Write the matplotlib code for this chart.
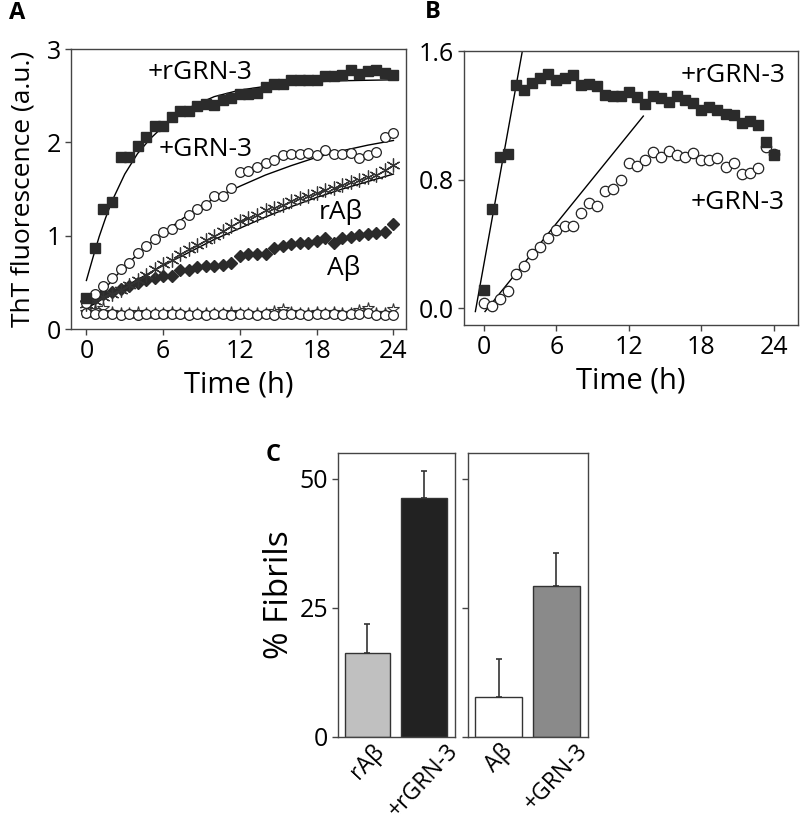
import matplotlib
matplotlib.use("Agg")
import matplotlib.pyplot as plt
import numpy as np

plt.rcParams['font.family'] = ['Open Sans', 'DejaVu Sans']

# ---------------- Panel A data ----------------
time_a = [i * 2 / 3 for i in range(37)]
a_rgrn3 = [0.33, 0.87, 1.29, 1.36, 1.84, 1.84, 1.96, 2.06, 2.18, 2.18, 2.27, 2.34, 2.34,
           2.39, 2.41, 2.40, 2.45, 2.48, 2.52, 2.52, 2.53, 2.59, 2.62, 2.62, 2.67, 2.67,
           2.67, 2.67, 2.71, 2.71, 2.72, 2.77, 2.73, 2.76, 2.78, 2.74, 2.72]
a_grn3 = [0.28, 0.37, 0.46, 0.55, 0.64, 0.71, 0.81, 0.89, 0.96, 1.04, 1.07, 1.13, 1.22,
          1.29, 1.33, 1.42, 1.43, 1.51, 1.68, 1.69, 1.74, 1.78, 1.81, 1.86, 1.87, 1.87,
          1.89, 1.86, 1.92, 1.87, 1.87, 1.89, 1.83, 1.86, 1.90, 2.06, 2.10]
a_rab = [0.27, 0.30, 0.34, 0.38, 0.42, 0.47, 0.53, 0.58, 0.64, 0.70, 0.74, 0.80, 0.86,
         0.90, 0.95, 1.00, 1.05, 1.10, 1.16, 1.19, 1.22, 1.27, 1.30, 1.33, 1.37, 1.40,
         1.43, 1.46, 1.49, 1.51, 1.54, 1.57, 1.60, 1.63, 1.65, 1.70, 1.76]
a_ab = [0.30, 0.33, 0.37, 0.40, 0.43, 0.46, 0.49, 0.52, 0.55, 0.57, 0.57, 0.63, 0.63,
        0.66, 0.67, 0.68, 0.69, 0.71, 0.78, 0.80, 0.80, 0.80, 0.87, 0.89, 0.91, 0.92,
        0.92, 0.94, 0.98, 0.92, 0.98, 0.99, 1.01, 1.02, 1.03, 1.04, 1.13]
a_ctrl_circ = [0.17, 0.16, 0.16, 0.16, 0.15, 0.16, 0.15, 0.16, 0.16, 0.16, 0.16, 0.16, 0.15,
               0.16, 0.15, 0.16, 0.16, 0.15, 0.16, 0.16, 0.15, 0.16, 0.15, 0.16, 0.16, 0.16,
               0.15, 0.16, 0.16, 0.16, 0.15, 0.16, 0.16, 0.17, 0.15, 0.15, 0.15]
a_ctrl_star = [0.18, 0.20, 0.22, 0.18, 0.17, 0.17, 0.18, 0.17, 0.17, 0.17, 0.18, 0.17, 0.17,
               0.17, 0.17, 0.17, 0.17, 0.18, 0.17, 0.17, 0.17, 0.17, 0.19, 0.21, 0.18, 0.17,
               0.17, 0.18, 0.17, 0.18, 0.17, 0.17, 0.20, 0.22, 0.17, 0.17, 0.21]

# fitted curves
fit_rgrn3_t = [0, 0.5, 1, 1.5, 2, 3, 4, 5, 6, 7, 8, 10, 12, 14, 16, 18, 20, 22, 24]
fit_rgrn3_v = [0.52, 0.76, 0.99, 1.19, 1.37, 1.66, 1.88, 2.04, 2.17, 2.27, 2.37, 2.49,
               2.56, 2.60, 2.63, 2.65, 2.66, 2.665, 2.67]
fit_grn3_t = [0, 1, 2, 3, 4, 5, 6, 8, 10, 12, 14, 16, 18, 20, 22, 24]
fit_grn3_v = [0.20, 0.36, 0.52, 0.67, 0.80, 0.92, 1.03, 1.23, 1.40, 1.53, 1.65, 1.75,
              1.84, 1.91, 1.97, 2.02]
fit_rab_t = [0, 2, 4, 6, 8, 10, 12, 14, 16, 18, 20, 22, 24]
fit_rab_v = [0.22, 0.38, 0.53, 0.68, 0.82, 0.96, 1.08, 1.20, 1.31, 1.41, 1.50, 1.58, 1.66]

# ---------------- Panel B data ----------------
time_b = [i * 2 / 3 for i in range(37)]
b_rgrn3 = [0.114, 0.616, 0.939, 0.96, 1.389, 1.357, 1.40, 1.43, 1.457, 1.42, 1.434, 1.45,
           1.389, 1.393, 1.382, 1.33, 1.322, 1.322, 1.347, 1.312, 1.27, 1.322, 1.306, 1.285,
           1.322, 1.295, 1.275, 1.233, 1.25, 1.233, 1.208, 1.202, 1.154, 1.167, 1.14, 1.036,
           0.957]
b_grn3 = [0.031, 0.017, 0.058, 0.108, 0.213, 0.265, 0.338, 0.383, 0.44, 0.487, 0.512, 0.512,
          0.59, 0.653, 0.638, 0.732, 0.742, 0.798, 0.902, 0.885, 0.922, 0.97, 0.943, 0.978,
          0.957, 0.943, 0.968, 0.922, 0.922, 0.933, 0.881, 0.902, 0.835, 0.839, 0.87, 1.005,
          0.96]
line_rgrn3_t = [-0.72, 3.17]
line_rgrn3_v = [-0.02, 1.60]
line_grn3_t = [0.08, 13.19]
line_grn3_v = [-0.02, 1.196]

# ---------------- Panel C data ----------------
c_left_labels = ['rAβ', '+rGRN-3']
c_left_values = [16.3, 46.2]
c_left_errors = [5.6, 5.3]
c_right_labels = ['Aβ', '+GRN-3']
c_right_values = [7.7, 29.3]
c_right_errors = [7.4, 6.3]

fig = plt.figure(figsize=(8, 8.25), dpi=100)

spine_col = '#444444'
tick_fs = 18
label_fs = 19

def style_axes(ax):
    for s in ax.spines.values():
        s.set_color(spine_col)
        s.set_linewidth(1.0)
    ax.tick_params(direction='out', length=4, width=1, color=spine_col,
                   labelsize=tick_fs, pad=3)

# ---- Panel A ----
axA = fig.add_axes([0.0888, 0.6012, 0.419, 0.3394])
style_axes(axA)
dark = '#2b2b2b'
axA.plot(fit_rgrn3_t, fit_rgrn3_v, color='black', lw=1.0, zorder=2)
axA.plot(fit_grn3_t, fit_grn3_v, color='black', lw=1.0, zorder=2)
axA.plot(fit_rab_t, fit_rab_v, color='black', lw=1.0, zorder=2)
axA.plot(time_a, a_ctrl_star, ls='none', marker='*', ms=9, mfc='white', mec='#333333',
         mew=0.8, zorder=3)
axA.plot(time_a, a_ctrl_circ, ls='none', marker='o', ms=7, mfc='white', mec='#222222',
         mew=0.9, zorder=3)
axA.plot(time_a, a_ab, ls='none', marker='D', ms=6.5, color=dark, zorder=4)
axA.plot(time_a, a_rab, ls='none', marker=(6, 2, 0), ms=10, mec='#333333', mew=0.9, zorder=4)
axA.plot(time_a, a_grn3, ls='none', marker='o', ms=7, mfc='white', mec='#222222',
         mew=0.9, zorder=4)
axA.plot(time_a, a_rgrn3, ls='none', marker='s', ms=6.5, color=dark, zorder=4)
axA.set_xlim(-1.2, 25)
axA.set_ylim(0, 3)
axA.set_xticks([0, 6, 12, 18, 24])
axA.set_yticks([0, 1, 2, 3])
axA.set_xlabel('Time (h)', fontsize=21, labelpad=5)
axA.set_ylabel('ThT fluorescence (a.u.)', fontsize=label_fs, labelpad=8)
axA.text(8.9, 2.75, '+rGRN-3', fontsize=label_fs, ha='center', va='center')
axA.text(9.3, 1.92, '+GRN-3', fontsize=label_fs, ha='center', va='center')
axA.text(19.85, 1.25, 'rAβ', fontsize=label_fs, ha='center', va='center')
axA.text(20.1, 0.65, 'Aβ', fontsize=label_fs, ha='center', va='center')

# ---- Panel B ----
axB = fig.add_axes([0.58, 0.606, 0.4175, 0.332])
style_axes(axB)
axB.plot(line_rgrn3_t, line_rgrn3_v, color='black', lw=1.0, zorder=2)
axB.plot(line_grn3_t, line_grn3_v, color='black', lw=1.0, zorder=2)
axB.plot(time_b, b_grn3, ls='none', marker='o', ms=7.5, mfc='white', mec='#222222',
         mew=0.9, zorder=3)
axB.plot(time_b, b_rgrn3, ls='none', marker='s', ms=7.5, color=dark, zorder=4)
axB.set_xlim(-1.66, 26)
axB.set_ylim(-0.104, 1.6)
axB.set_xticks([0, 6, 12, 18, 24])
axB.set_yticks([0.0, 0.8, 1.6])
axB.set_yticklabels(['0.0', '0.8', '1.6'])
axB.set_xlabel('Time (h)', fontsize=21, labelpad=5)
axB.text(20.6, 1.45, '+rGRN-3', fontsize=label_fs, ha='center', va='center')
axB.text(21.0, 0.66, '+GRN-3', fontsize=label_fs, ha='center', va='center')

# ---- Panel C ----
c_colors_left = ['#c0c0c0', '#222222']
c_colors_right = ['#ffffff', '#8a8a8a']
axC1 = fig.add_axes([0.422, 0.107, 0.1466, 0.344])
axC2 = fig.add_axes([0.585, 0.107, 0.15, 0.344])
for ax, labels, vals, errs, cols in [
        (axC1, c_left_labels, c_left_values, c_left_errors, c_colors_left),
        (axC2, c_right_labels, c_right_values, c_right_errors, c_colors_right)]:
    style_axes(ax)
    x = np.arange(len(labels))
    ax.bar(x, vals, width=0.81, color=cols, edgecolor='#333333', linewidth=1.0, zorder=2)
    ax.errorbar(x, vals, yerr=[np.zeros(len(errs)), errs], fmt='none', ecolor='#333333',
                elinewidth=1.2, capsize=2, capthick=1.2, zorder=1)
    ax.set_xlim(-0.53, 1.55)
    ax.set_ylim(0, 55)
    ax.set_yticks([0, 25, 50])
    ax.set_xticks(x)
    ax.set_xticklabels(labels, rotation=47, ha='center', fontsize=16.5)
    ax.tick_params(axis='x', length=0, pad=2)
axC2.set_yticklabels([])
axC1.set_ylabel('% Fibrils', fontsize=24, labelpad=2)

fig.text(0.021, 0.984, 'A', fontsize=17, fontweight='bold', ha='center', va='center')
fig.text(0.541, 0.985, 'B', fontsize=17, fontweight='bold', ha='center', va='center')
fig.text(0.341, 0.448, 'C', fontsize=17, fontweight='bold', ha='center', va='center')

fig.savefig('out.png', dpi=100)
